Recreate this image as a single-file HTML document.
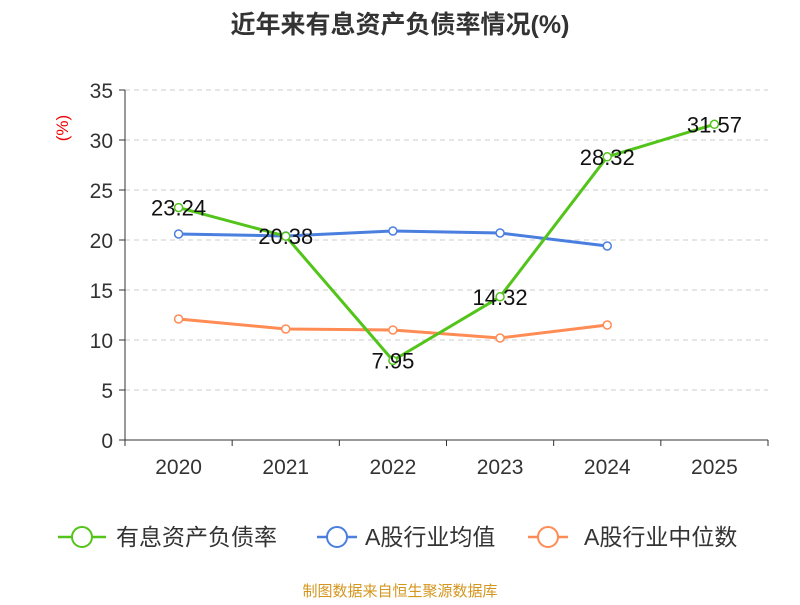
<!DOCTYPE html>
<html><head><meta charset="utf-8"><style>
body{margin:0;background:#fff;}
svg text{font-family:"Liberation Sans","Noto Sans CJK SC",sans-serif;}
</style></head><body>
<svg id="chart" width="800" height="600" viewBox="0 0 800 600" xmlns="http://www.w3.org/2000/svg">
<text x="400" y="33" text-anchor="middle" font-size="25" font-weight="bold" fill="#333">近年来有息资产负债率情况(%)</text>
<text x="68" y="128" text-anchor="middle" font-size="17" fill="#e00" transform="rotate(-90 68 128)">(%)</text>
<g id="grid"></g><g id="axes"></g><g id="series"></g>
<g>
 <g><line x1="58" y1="537" x2="106" y2="537" stroke="#52c41a" stroke-width="2.5"/><circle cx="82" cy="537" r="10" fill="#fff" stroke="#52c41a" stroke-width="2"/><text x="116" y="545" font-size="23" fill="#333">有息资产负债率</text></g>
 <g><line x1="317" y1="537" x2="357" y2="537" stroke="#4a7fe0" stroke-width="2.5"/><circle cx="337" cy="537" r="10" fill="#fff" stroke="#4a7fe0" stroke-width="2"/><text x="365" y="545" font-size="23" fill="#333">A股行业均值</text></g>
 <g><line x1="528" y1="537" x2="568" y2="537" stroke="#ff8c55" stroke-width="2.5"/><circle cx="548" cy="537" r="10" fill="#fff" stroke="#ff8c55" stroke-width="2"/><text x="584" y="545" font-size="23" fill="#333">A股行业中位数</text></g>
</g>
<text x="400" y="596" text-anchor="middle" font-size="15" fill="#d4961e">制图数据来自恒生聚源数据库</text>
</svg>
<script>
const categories=["2020","2021","2022","2023","2024","2025"];
const yTicks=[0,5,10,15,20,25,30,35];
const companyValues=[23.24,20.38,7.95,14.32,28.32,31.57];
const meanValues=[20.6,20.4,20.9,20.7,19.4];
const medianValues=[12.1,11.1,11.0,10.2,11.5];
const NS="http://www.w3.org/2000/svg";
const L=125,R=768,T=90,B=440,yMax=35;
const bw=(R-L)/categories.length;
const x=i=>L+bw*(i+0.5);
const y=v=>B-(v/yMax)*(B-T);
function mk(tag,attrs,parent){const e=document.createElementNS(NS,tag);for(const k in attrs)e.setAttribute(k,attrs[k]);parent.appendChild(e);return e;}
const grid=document.getElementById('grid'),axes=document.getElementById('axes'),series=document.getElementById('series');
yTicks.forEach(t=>{
 if(t>0){const g=mk('line',{x1:L,x2:R,y1:y(t),y2:y(t),stroke:'#ccc','stroke-dasharray':'5,4'},grid);
 
 }
 const tk=mk('line',{x1:L-6,x2:L,y1:y(t),y2:y(t),stroke:'#333'},axes);
 
 
 const tl=mk('text',{x:L-12,y:y(t)+8,'text-anchor':'end','font-size':21,fill:'#333'},axes);tl.textContent=t;
 
 
});
const ya=mk('line',{x1:L,x2:L,y1:T,y2:B,stroke:'#333'},axes);


const xa=mk('line',{x1:L,x2:R,y1:B,y2:B,stroke:'#333'},axes);


for(let i=0;i<=categories.length;i++){const tk=mk('line',{x1:L+bw*i,x2:L+bw*i,y1:B,y2:B+6,stroke:'#333'},axes);
 
 }
categories.forEach((c,i)=>{const t=mk('text',{x:x(i),y:B+34,'text-anchor':'middle','font-size':21,fill:'#333'},axes);t.textContent=c;
 
 });
function drawLine(vals,color,name,labels){
 const p=mk('polyline',{points:vals.map((v,i)=>x(i)+','+y(v)).join(' '),fill:'none',stroke:color,'stroke-width':3},series);
 
 
 vals.forEach((v,i)=>{const c=mk('circle',{cx:x(i),cy:y(v),r:4,fill:'#fff',stroke:color,'stroke-width':1.5},series);
  
  
  if(labels){const t=mk('text',{x:x(i),y:y(v)+8,'text-anchor':'middle','font-size':22,fill:'#111'},series);t.textContent=v.toFixed(2);
   
   }
 });
}
drawLine(meanValues,'#4a7fe0','industry-mean',false);
drawLine(medianValues,'#ff8c55','industry-median',false);
drawLine(companyValues,'#52c41a','company',true);
</script>
</body></html>
